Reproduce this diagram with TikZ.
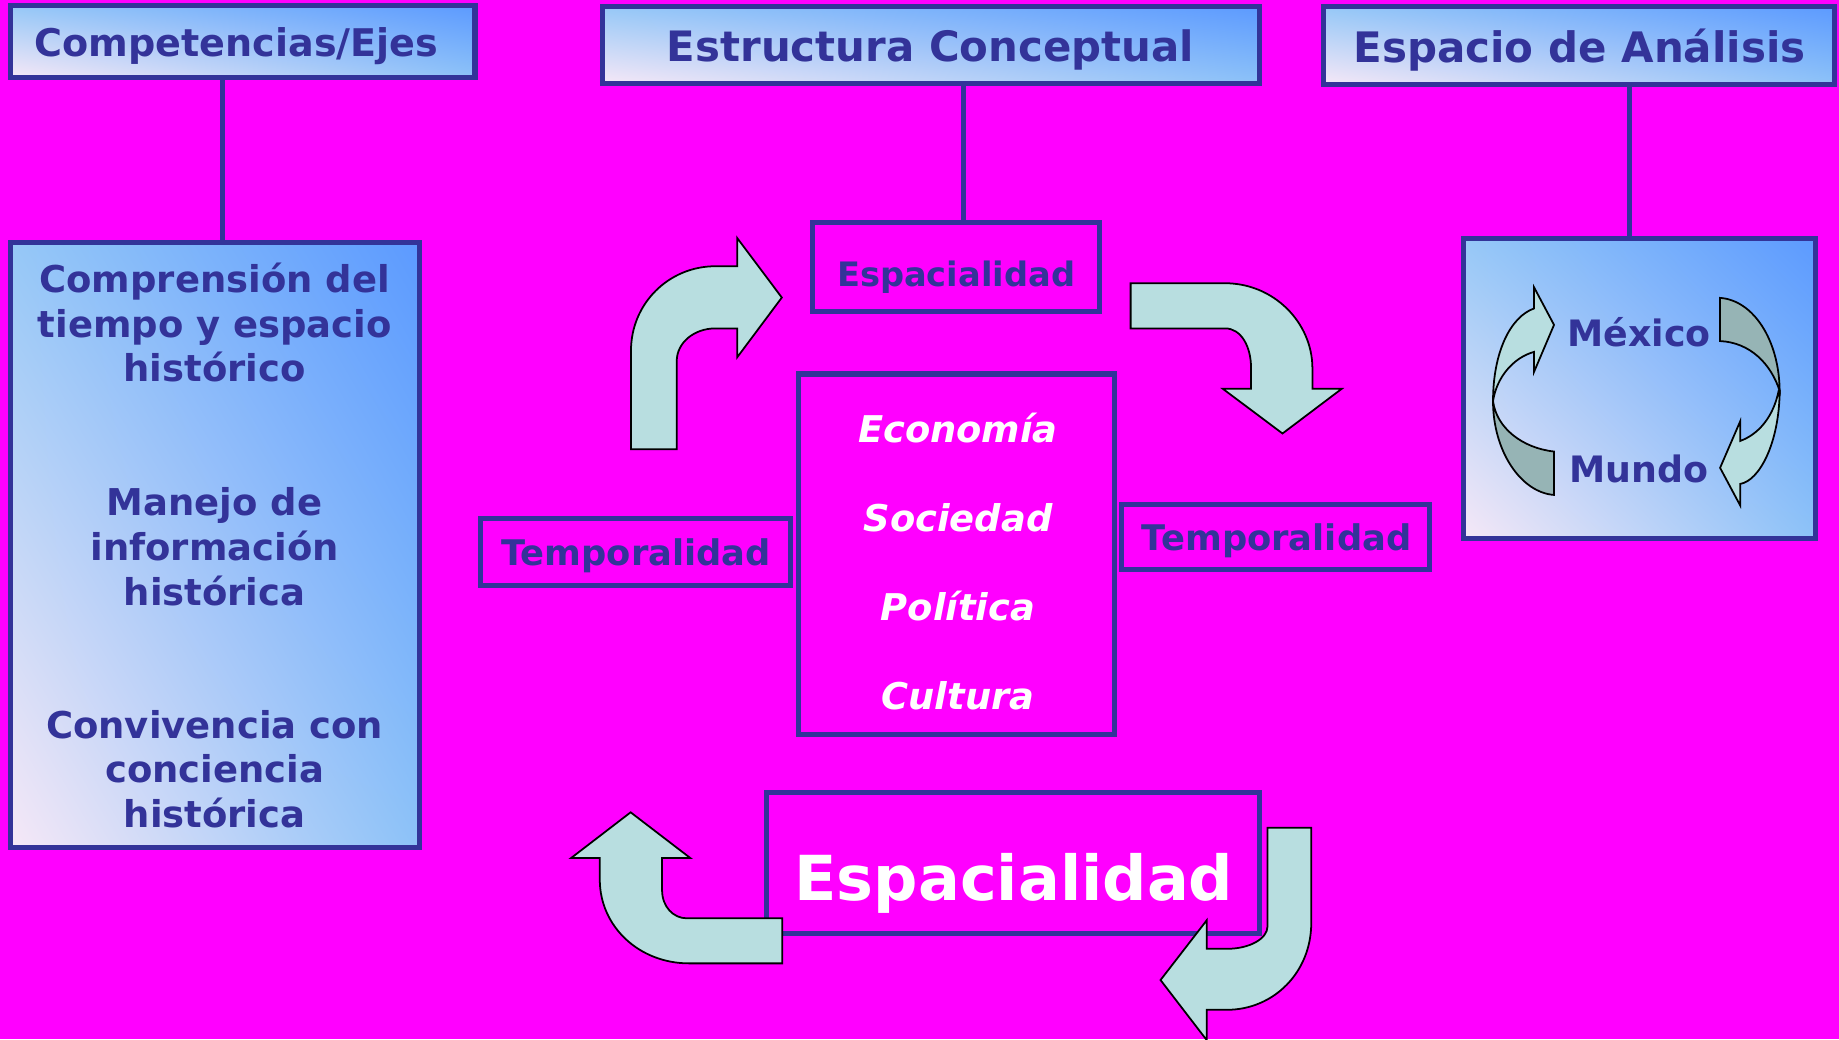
\documentclass[tikz,border=0pt]{standalone}
\usepackage{fontspec}
\setmainfont{DejaVu Sans}
\usepackage{tikz}
\usetikzlibrary{shadings}
\definecolor{bgmag}{RGB}{255,0,255}
\definecolor{boxblue}{RGB}{51,51,153}
\definecolor{skyA}{RGB}{92,154,255}
\definecolor{skyUL}{RGB}{150,200,247}
\definecolor{skyLR}{RGB}{140,194,248}
\definecolor{paleP}{RGB}{246,232,247}
\definecolor{arrcyan}{RGB}{184,222,224}
\definecolor{arrdark}{RGB}{150,180,181}
\tikzset{every picture/.style={line width=0.75pt}}
\tikzset{
  plainbox/.style={draw=boxblue, line width=4.3pt, inner sep=0pt},
  gradbox/.style={plainbox, lower left=paleP, upper right=skyA, upper left=skyUL, lower right=skyLR},
  link/.style={draw=boxblue, line width=4.3pt},
  bendarrow/.style={draw=black, fill=arrcyan, line width=1.5pt},
  darkpart/.style={draw=black, fill=arrdark, line width=1.5pt},
  bluetxt/.style={text=boxblue, inner sep=0pt, anchor=base, font=\bfseries\fontsize{#1}{#1}\selectfont},
  whitetxt/.style={text=white, inner sep=0pt, anchor=base, font=\bfseries\fontsize{#1}{#1}\selectfont},
  slanttxt/.style={whitetxt=#1, font=\bfseries\itshape\fontsize{#1}{#1}\selectfont}
}

\begin{document}
\begin{tikzpicture}[x=1pt,y=1pt,yscale=-1,xscale=1]
\useasboundingbox (0,0) rectangle (1568,886);
\fill[bgmag] (0,0) rectangle (1568,886);

%Shape: Rectangle (titles)
\node[gradbox, minimum width=396pt, minimum height=61pt] (compTitle) at (207,35.5) {};
\node[gradbox, minimum width=560pt, minimum height=66pt] (estrTitle) at (793.6,38.4) {};
\node[gradbox, minimum width=436pt, minimum height=66pt] (espTitle) at (1346.2,38.7) {};
%Shape: Rectangle (big boxes)
\node[gradbox, minimum width=349pt, minimum height=516pt] (compBox) at (183.3,464.5) {};
\node[gradbox, minimum width=300pt, minimum height=256pt] (worldBox) at (1397.6,331) {};
\node[plainbox, minimum width=245pt, minimum height=75.6pt] (espSmall) at (815.2,227.4) {};
\node[plainbox, minimum width=264pt, minimum height=57pt] (tempLeft) at (542,470.6) {};
\node[plainbox, minimum width=263pt, minimum height=56pt] (tempRight) at (1087.4,457.9) {};
\node[plainbox, minimum width=269pt, minimum height=307pt] (centerBox) at (815.6,472.4) {};
\node[plainbox, minimum width=420pt, minimum height=120pt] (espBig) at (863.5,735.7) {};

%Straight Lines
\draw[link] ([xshift=-17.2pt]compTitle.south) -- ([xshift=6.5pt]compBox.north);
\draw[link] ([xshift=28.2pt]estrTitle.south) -- ([xshift=6.6pt]espSmall.north);
\draw[link] ([xshift=43.1pt]espTitle.south) -- ([xshift=-8.3pt]worldBox.north);

% Text Node
\node[bluetxt=32.5] (compTxt) at (201.6,48.3) {Competencias/Ejes};
\node[bluetxt=35.7] (estrTxt) at (793.3,52.6) {Estructura Conceptual};
\node[bluetxt=35.8] (espTxt) at (1346.7,53.3) {Espacio de Análisis};
\foreach \ln/\yy [count=\i] in {Comprensión del/249.2, tiempo y espacio/288, histórico/325.6, Manejo de/439.4, información/477.7, histórica/516.5, Convivencia con/629.5, conciencia/667.2, histórica/705.9}
  \node[bluetxt=31.5] (comp\i) at (183,\yy) {\ln};
\foreach \ln/\yy [count=\i] in {Economía/377, Sociedad/453.4, Política/529.1, Cultura/605.1}
  \node[slanttxt=31.4] (dom\i) at (816.8,\yy) {\ln};
\node[bluetxt=28.7] (espSmallTxt) at (815.2,244.4) {Espacialidad};
\node[bluetxt=30.1] (tempLeftTxt) at (542.5,481.9) {Temporalidad};
\node[bluetxt=30.1] (tempRightTxt) at (1088.5,469.5) {Temporalidad};
\node[whitetxt=52.9] (espBigTxt) at (864.5,768) {Espacialidad};
\node[bluetxt=31] (mexico) at (1397.6,295.4) {México};
\node[bluetxt=31] (mundo) at (1397.5,411) {Mundo};

%Curve Lines (bent arrows)
\draw[bendarrow] (538,383) -- (538,299) .. controls (538,259) and (570,227) .. (610,227) -- (628.6,227) -- (628.6,203) -- (666.6,253.7) -- (628.6,304.6) -- (628.6,280) -- (610,280) .. controls (592,280) and (577,292) .. (577,308) -- (577,383) -- cycle;
\draw[bendarrow] (964,241.5) -- (1044.6,241.5) .. controls (1086,241.5) and (1119,275) .. (1119,314) -- (1119,331.5) -- (1144,331.5) -- (1093.5,369.6) -- (1042.6,331.5) -- (1066.7,331.5) -- (1066.7,314) .. controls (1066.7,295) and (1058,280) .. (1044.6,280) -- (964,280) -- cycle;
\draw[bendarrow] (537.7,692.6) -- (588.6,731.6) -- (564.5,731.6) -- (564.5,759) .. controls (564.5,773) and (574,783) .. (585.7,783) -- (667,783) -- (667,821.4) -- (587.5,821.4) .. controls (545,821.4) and (511.4,790) .. (511.4,750) -- (511.4,731.6) -- (486.9,731.6) -- cycle;
\draw[bendarrow] (1080.7,705.7) -- (1118,705.7) -- (1118,787) .. controls (1118,829) and (1086,861) .. (1046,861) -- (1029,861) -- (1029,887) -- (989.5,835.6) -- (1029,784.5) -- (1029,809) -- (1046,809) .. controls (1066,809) and (1080.7,800) .. (1080.7,790) -- cycle;

%Curve Lines (circular arrows)
\draw[bendarrow] (1308,263) .. controls (1288,270) and (1273,300) .. (1273,342) .. controls (1276,322) and (1290,305) .. (1308,300) -- (1308,317) -- (1325,277) -- (1308,245) -- cycle;
\draw[darkpart] (1273,342) .. controls (1273,385) and (1297,420) .. (1325,422) -- (1325,385) .. controls (1298,382) and (1276,365) .. (1273,342) -- cycle;
\draw[darkpart] (1466.6,254) .. controls (1495,256) and (1517,290) .. (1517.4,333.4) .. controls (1510,310) and (1492,292) .. (1466.6,290.8) -- cycle;
\draw[bendarrow] (1517.4,333.4) .. controls (1517,378) and (1500,410) .. (1483.7,412.6) -- (1483.7,430.9) -- (1466.6,398.9) -- (1483.7,359.3) -- (1483.7,376) .. controls (1500,370) and (1512,355) .. (1516.5,333.4) -- cycle;

\end{tikzpicture}
\end{document}
